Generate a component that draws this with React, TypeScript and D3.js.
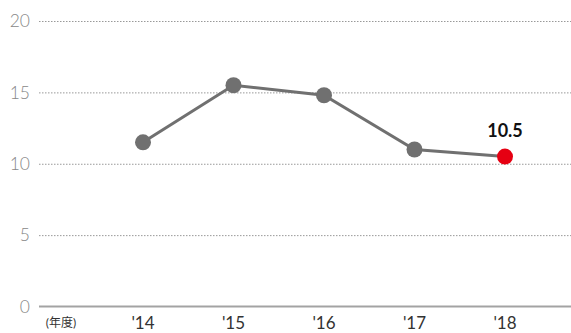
import React from "react";
import * as d3 from "d3";

const years = ["'14", "'15", "'16", "'17", "'18"];
const values = [11.5, 15.5, 14.8, 11.0, 10.5];
const yTicks = [0, 5, 10, 15, 20];
const unitLabel = "(年度)";

const W = 571;
const H = 333;
const FONT = "Lato, 'Noto Sans', 'Noto Sans CJK JP', sans-serif";

export default function App() {
  const x = d3.scalePoint<string>().domain(years).range([143, 505]);
  const y = d3.scaleLinear().domain([0, 20]).range([306.5, 21]);
  const line = d3
    .line<number>()
    .x((_, i) => x(years[i]) as number)
    .y((d) => y(d));
  const last = values.length - 1;

  return (
    <svg
      width={W}
      height={H}
      style={{ position: "absolute", left: 0, top: 0, fontFamily: FONT }}
    >
      {yTicks.map((t) => (
        <g key={t}>
          {t === 0 ? (
            <line x1={39} x2={W} y1={y(t)} y2={y(t)} stroke="#a3a3a3" strokeWidth={2} />
          ) : (
            <line
              x1={39}
              x2={W}
              y1={y(t) + 0.5}
              y2={y(t) + 0.5}
              stroke="#999"
              strokeWidth={1}
              strokeDasharray="1.5 1.5"
            />
          )}
          <text
            x={30}
            y={y(t)}
            dy="0.36em"
            textAnchor="end"
            fontSize={17.5}
            fontWeight={300}
            fill="#888"
          >
            {t}
          </text>
        </g>
      ))}

      {years.map((yr) => (
        <text
          key={yr}
          x={x(yr)}
          y={329}
          textAnchor="middle"
          fontSize={17}
          fill="#333"
        >
          {yr}
        </text>
      ))}
      <text x={61} y={327} textAnchor="middle" fontSize={12} fill="#333">
        {unitLabel}
      </text>

      <path d={line(values) ?? ""} fill="none" stroke="#707070" strokeWidth={3} />
      {values.map((v, i) => (
        <circle
          key={years[i]}
          cx={x(years[i])}
          cy={y(v)}
          r={8}
          fill={i === last ? "#e60012" : "#707070"}
        />
      ))}
      <text
        x={x(years[last])}
        y={y(values[last]) - 20}
        textAnchor="middle"
        fontSize={18}
        fontWeight="bold"
        fill="#111"
      >
        {values[last].toFixed(1)}
      </text>
    </svg>
  );
}
